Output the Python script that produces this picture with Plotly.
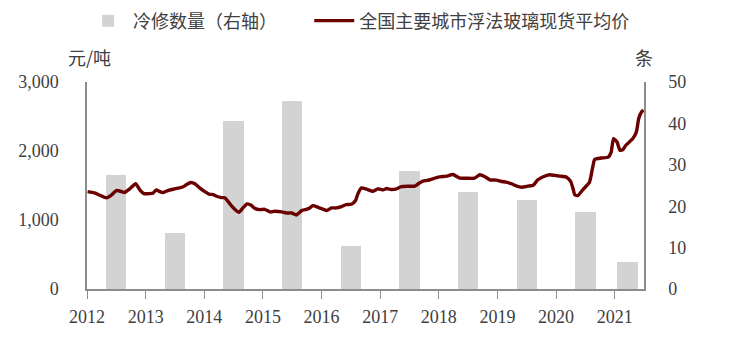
import plotly.graph_objects as go

# ---- data ----
years = [2012, 2013, 2014, 2015, 2016, 2017, 2018, 2019, 2020, 2021]
year_labels = [str(y) for y in years]

# annual cold-repair count (right axis), bar position in decimal years
bar_pos = [2012.49, 2013.50, 2014.50, 2015.50, 2016.50, 2017.50, 2018.50, 2019.50, 2020.50, 2021.22]
cold_repairs = [27.5, 13.5, 40.5, 45.5, 10.5, 28.5, 23.5, 21.5, 18.5, 6.5]

# average float-glass spot price (left axis, yuan/ton), time in decimal years
price_t = [
    2012.01, 2012.13, 2012.22, 2012.33, 2012.42, 2012.50, 2012.59, 2012.64, 2012.73, 2012.83,
    2012.90, 2012.97, 2013.07, 2013.13, 2013.18, 2013.24, 2013.30, 2013.38, 2013.47, 2013.55,
    2013.64, 2013.70, 2013.77, 2013.84, 2013.92, 2014.01, 2014.09, 2014.15, 2014.21, 2014.29,
    2014.35, 2014.43, 2014.52, 2014.59, 2014.66, 2014.73, 2014.80, 2014.86, 2014.95, 2015.03,
    2015.12, 2015.20, 2015.32, 2015.40, 2015.49, 2015.57, 2015.66, 2015.74, 2015.80, 2015.85,
    2015.94, 2016.03, 2016.09, 2016.17, 2016.25, 2016.34, 2016.42, 2016.51, 2016.58, 2016.62,
    2016.68, 2016.77, 2016.88, 2016.96, 2017.05, 2017.11, 2017.19, 2017.28, 2017.36, 2017.48,
    2017.59, 2017.65, 2017.73, 2017.85, 2017.99, 2018.13, 2018.24, 2018.36, 2018.47, 2018.61,
    2018.70, 2018.78, 2018.87, 2018.98, 2019.07, 2019.15, 2019.24, 2019.32, 2019.41, 2019.52,
    2019.61, 2019.69, 2019.78, 2019.89, 2019.98, 2020.06, 2020.18, 2020.25, 2020.29, 2020.32,
    2020.37, 2020.46, 2020.57, 2020.62, 2020.66, 2020.77, 2020.89, 2020.94, 2020.98, 2021.04,
    2021.09, 2021.14, 2021.19, 2021.31, 2021.37, 2021.41, 2021.46, 2021.49,
]
price = [
    1412, 1393, 1359, 1321, 1364, 1427, 1412, 1398, 1452, 1525,
    1437, 1383, 1383, 1393, 1437, 1412, 1398, 1427, 1446, 1461,
    1481, 1514, 1544, 1525, 1466, 1412, 1373, 1369, 1344, 1325,
    1321, 1242, 1155, 1111, 1175, 1233, 1213, 1169, 1150, 1155,
    1117, 1126, 1117, 1102, 1102, 1073, 1136, 1155, 1175, 1209,
    1184, 1155, 1136, 1175, 1175, 1194, 1223, 1228, 1282, 1379,
    1466, 1446, 1417, 1452, 1437, 1456, 1442, 1452, 1485, 1490,
    1490, 1525, 1563, 1583, 1621, 1636, 1660, 1606, 1606, 1606,
    1656, 1631, 1583, 1577, 1558, 1548, 1525, 1495, 1475, 1490,
    1504, 1583, 1626, 1656, 1646, 1636, 1621, 1558, 1452, 1364,
    1354, 1442, 1548, 1743, 1879, 1898, 1912, 1985, 2180, 2131,
    2010, 2020, 2083, 2180, 2277, 2471, 2568, 2592,
]

left_ticks = [0, 1000, 2000, 3000]
right_ticks = [0, 10, 20, 30, 40, 50]

bar_name = "冷修数量（右轴）"
line_name = "全国主要城市浮法玻璃现货平均价"
left_unit = "元/吨"
right_unit = "条"

# ---- styles ----
AXIS_COLOR = "#8c8c8c"
TEXT_COLOR = "#404040"
NUM_FONT = dict(family="Liberation Serif", size=18, color=TEXT_COLOR)
CJK_FONT = dict(family="Noto Sans CJK SC", size=18, color=TEXT_COLOR)

fig = go.Figure()
fig.add_trace(go.Bar(
    x=bar_pos, y=cold_repairs, width=0.346,
    marker=dict(color="#d3d3d3", line=dict(width=0)),
    name=bar_name, yaxis="y", legend="legend",
))
fig.add_trace(go.Scatter(
    x=price_t, y=price, mode="lines",
    line=dict(color="#6b0000", width=3.4, shape="spline", smoothing=0.5),
    name=line_name, yaxis="y2", legend="legend2",
))

legend_common = dict(
    orientation="h", y=1.295, xanchor="left", yanchor="middle",
    font=CJK_FONT, itemwidth=40, bgcolor="rgba(0,0,0,0)",
)

fig.update_layout(
    width=732, height=337,
    margin=dict(l=87, r=88, t=82, b=48, autoexpand=False),
    paper_bgcolor="white", plot_bgcolor="white",
    showlegend=True,
    legend=dict(x=-0.007, **legend_common),
    legend2=dict(x=0.399, **legend_common),
    xaxis=dict(
        range=[2012.0, 2021.5], tickmode="array", tickvals=years, ticktext=year_labels,
        ticks="outside", ticklen=8, tickwidth=1, tickcolor=AXIS_COLOR,
        showline=True, linecolor=AXIS_COLOR, linewidth=2,
        showgrid=False, zeroline=False, tickfont=NUM_FONT, ticklabelstandoff=2,
    ),
    yaxis=dict(
        side="right", range=[0, 50], tickmode="array", tickvals=right_ticks,
        showline=True, linecolor=AXIS_COLOR, linewidth=1.5,
        showgrid=False, zeroline=False,
        ticks="outside", ticklen=19, tickcolor="rgba(0,0,0,0)", tickfont=NUM_FONT,
    ),
    yaxis2=dict(
        overlaying="y", side="left", range=[0, 3000], tickmode="array",
        tickvals=left_ticks, tickformat=",",
        showline=True, linecolor=AXIS_COLOR, linewidth=1.5,
        showgrid=False, zeroline=False,
        ticks="outside", ticklen=23, tickcolor="rgba(0,0,0,0)", tickfont=NUM_FONT,
    ),
    annotations=[
        dict(text=left_unit, xref="paper", yref="paper", x=0.004, y=1.12,
             xanchor="center", yanchor="middle", showarrow=False, font=CJK_FONT),
        dict(text=right_unit, xref="paper", yref="paper", x=1.0, y=1.12,
             xanchor="center", yanchor="middle", showarrow=False, font=CJK_FONT),
    ],
    bargap=0,
)

fig.write_html("out.html")
